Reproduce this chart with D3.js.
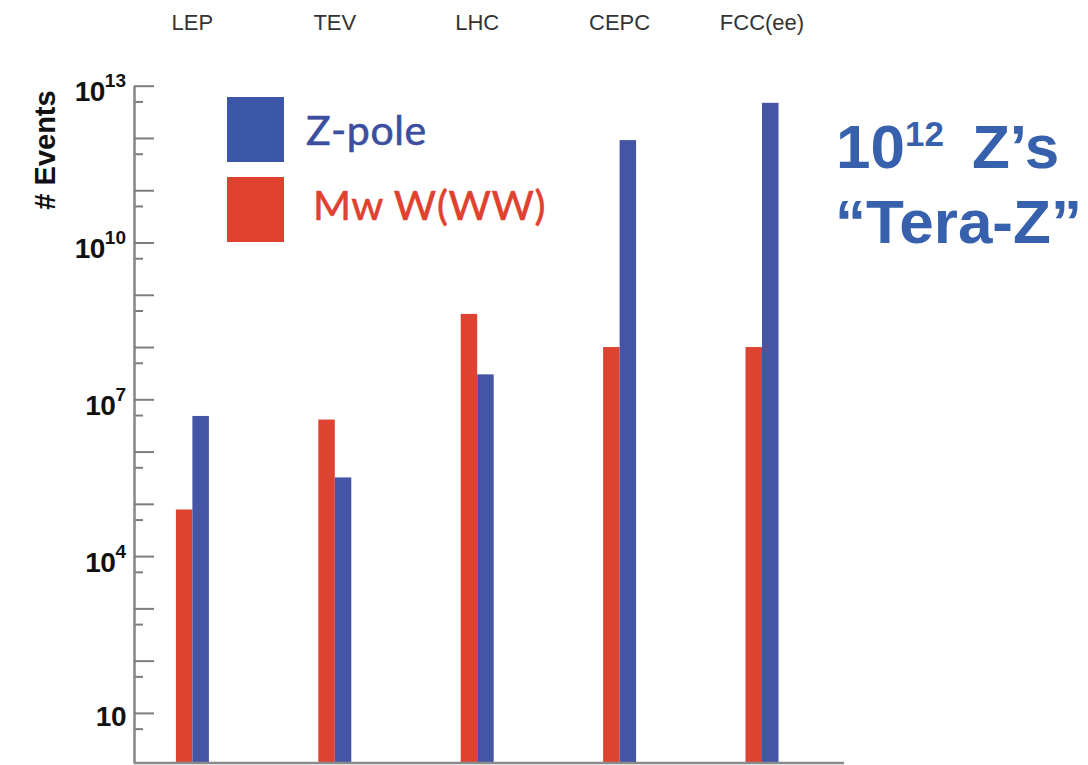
<!DOCTYPE html>
<html>
<head>
<meta charset="utf-8">
<script src="https://cdn.jsdelivr.net/npm/d3@7"></script>
<style>
  html, body { margin: 0; padding: 0; background: #fff; }
  svg { display: block; }
  .ylab text { font-family: "Liberation Sans", Arial, sans-serif; font-weight: bold; fill: #111; }
  .cat text { font-family: "Liberation Sans", Arial, sans-serif; font-size: 22px; fill: #333; }
</style>
</head>
<body>
<svg id="chart" width="1088" height="765"></svg>
<script>
// Collider event counts (log scale)
const categories = ["LEP", "TEV", "LHC", "CEPC", "FCC(ee)"];
const seriesNames = ["Mw W(WW)", "Z-pole"];
const wwEvents = [7.8e4, 4.1e6, 4.3e8, 1.0e8, 1.0e8];
const zEvents  = [4.8e6, 3.2e5, 3.0e7, 9.1e11, 4.7e12];
const seriesColors = ["#de4331", "#4555a5"];

// Axis ticks: every decade long, 5×10^n short; labels every third decade
const majorTicks = [1e1, 1e2, 1e3, 1e4, 1e5, 1e6, 1e7, 1e8, 1e9, 1e10, 1e11, 1e12, 1e13];
const minorTicks = [5, 5e1, 5e2, 5e3, 5e4, 5e5, 5e6, 5e7, 5e8, 5e9, 5e10, 5e11, 5e12];
const labelTicks = [1e1, 1e4, 1e7, 1e10, 1e13];
const labelBase  = ["10", "10", "10", "10", "10"];
const labelExp   = ["", "4", "7", "10", "13"];

const svg = d3.select("#chart");

const axisX = 134, plotTop = 85.7, plotBottom = 763, plotRight = 844;

const y = d3.scaleLog().domain([1.1, 1e13]).range([plotBottom, plotTop]);
const x = d3.scaleBand().domain(categories).range([121.2, 833.2]).paddingInner(0).paddingOuter(0);
const xSub = d3.scaleBand().domain(seriesNames).range([-16.5, 16.5]);

// Bars
const rows = categories.map((c, i) => ({ cat: c, values: [wwEvents[i], zEvents[i]] }));
const groups = svg.append("g").selectAll("g")
  .data(rows).join("g")
  .attr("transform", d => `translate(${x(d.cat) + x.bandwidth() / 2},0)`);
groups.selectAll("rect")
  .data(d => d.values.map((v, j) => ({ name: seriesNames[j], v, j })))
  .join("rect")
  .attr("x", d => xSub(d.name))
  .attr("width", xSub.bandwidth())
  .attr("y", d => y(d.v))
  .attr("height", d => plotBottom - y(d.v))
  .attr("fill", d => seriesColors[d.j]);

// Minor ticks
const minorAxis = d3.axisLeft(y).tickValues(minorTicks).tickSizeInner(-9).tickSizeOuter(0).tickFormat("");
const gMinor = svg.append("g").attr("transform", `translate(${axisX},0)`).call(minorAxis);
gMinor.select(".domain").remove();
gMinor.selectAll(".tick line").attr("stroke", "#7d7d7d").attr("stroke-width", 2);

// Major ticks with labels
const majorAxis = d3.axisLeft(y).tickValues(majorTicks).tickSizeInner(-20).tickSizeOuter(0)
  .tickPadding(8).tickFormat("");
const gMajor = svg.append("g").attr("class", "ylab").attr("transform", `translate(${axisX},0)`).call(majorAxis);
gMajor.select(".domain").attr("stroke", "#8a8a8a").attr("stroke-width", 2.6);
gMajor.selectAll(".tick line").attr("stroke", "#7d7d7d").attr("stroke-width", 2);
gMajor.selectAll(".tick text").each(function (d) {
  const k = labelTicks.indexOf(d);
  const t = d3.select(this);
  if (k < 0) { t.remove(); return; }
  t.attr("dy", null).attr("y", labelExp[k] ? 15 : 12.5).attr("font-size", 28).attr("fill", "#111");
  t.append("tspan").attr("letter-spacing", -0.5).text(labelBase[k]);
  if (labelExp[k]) {
    t.append("tspan").attr("font-size", 19).attr("dy", -14).text(labelExp[k]);
  }
});

// Baseline
svg.append("line")
  .attr("x1", axisX).attr("x2", plotRight)
  .attr("y1", plotBottom).attr("y2", plotBottom)
  .attr("stroke", "#8a8a8a").attr("stroke-width", 2.6);

// Collider names along the top
const catAxis = d3.axisTop(x).tickSize(0).tickPadding(0);
const gCat = svg.append("g").attr("class", "cat").attr("transform", "translate(0,30)").call(catAxis);
gCat.select(".domain").remove();
gCat.selectAll(".tick text").attr("dy", null).attr("y", 0);

// Y axis title
svg.append("text")
  .attr("transform", "translate(55,150) rotate(-90)")
  .attr("text-anchor", "middle")
  .attr("font-family", "Liberation Sans, Arial, sans-serif")
  .attr("font-weight", "bold")
  .attr("font-size", 29)
  .attr("fill", "#111")
  .text("# Events");

// Legend
const legendItems = [
  { name: "Z-pole", color: "#3b56a6", text: "#3c4f9f", sy: 97, tx: 306, ty: 145 },
  { name: "Mw W(WW)", color: "#e0412f", text: "#e0412f", sy: 177, tx: 313, ty: 220 }
];
const lg = svg.append("g");
lg.selectAll("rect").data(legendItems).join("rect")
  .attr("x", 227).attr("y", d => d.sy).attr("width", 57).attr("height", 65)
  .attr("fill", d => d.color);
lg.selectAll("text").data(legendItems).join("text")
  .attr("x", d => d.tx).attr("y", d => d.ty)
  .attr("font-family", "Lato, 'Open Sans', sans-serif")
  .attr("font-size", 41)
  .attr("letter-spacing", 0.6)
  .attr("stroke", d => d.text)
  .attr("stroke-width", 0.6)
  .attr("fill", d => d.text)
  .text(d => d.name);

// Tera-Z annotation
const note = svg.append("g")
  .attr("font-family", "Liberation Sans, Arial, sans-serif")
  .attr("font-weight", "bold")
  .attr("fill", "#3760ad");
const line1 = note.append("text").attr("x", 836).attr("y", 168).attr("font-size", 62);
line1.append("tspan").text("10");
line1.append("tspan").attr("font-size", 35).attr("dy", -22).text("12");
line1.append("tspan").attr("x", 972).attr("dy", 22).text("Z’s");
note.append("text").attr("x", 835).attr("y", 243).attr("font-size", 62).text("“Tera-Z”");
</script>
</body>
</html>
